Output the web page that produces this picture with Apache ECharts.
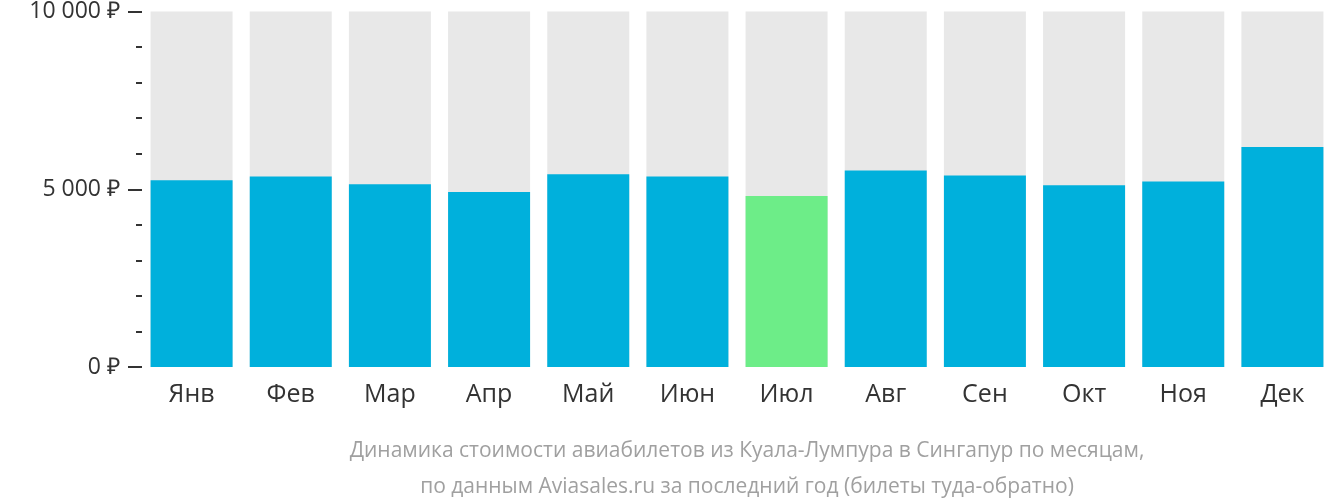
<!DOCTYPE html><html><head><meta charset="utf-8"><script src="https://cdn.jsdelivr.net/npm/echarts@6/dist/echarts.min.js"></script></head><body style="margin:0"><div id="c" style="width:1332px;height:502px"></div><script>
const categories=['Янв','Фев','Мар','Апр','Май','Июн','Июл','Авг','Сен','Окт','Ноя','Дек'];
const prices=[5250,5360,5140,4920,5420,5360,4810,5530,5390,5110,5220,6190];
const highlight=6;
const bgValue=10200;
const c=echarts.init(document.getElementById('c'));
c.setOption({animation:false,
grid:{left:142,right:-10,top:7,bottom:135},
title:{text:'Динамика стоимости авиабилетов из Куала-Лумпура в Сингапур по месяцам,\nпо данным Aviasales.ru за последний год (билеты туда-обратно)',left:742,textAlign:'center',top:428,textStyle:{fontFamily:'Open Sans',fontSize:21,fontWeight:'normal',color:'#a0a0a0',lineHeight:36}},
xAxis:{type:'category',data:categories,axisLine:{show:false},axisTick:{show:false},axisLabel:{fontFamily:'Open Sans',fontSize:25,color:'#333',margin:15}},
yAxis:{type:'value',min:0,max:10000,interval:5000,splitLine:{show:false},axisLine:{show:false},
axisTick:{show:true,length:14,lineStyle:{color:'#333',width:2}},minorTick:{show:true,splitNumber:5,length:6,lineStyle:{color:'#333',width:2}},
axisLabel:{fontFamily:'Open Sans',fontSize:23,color:'#333',margin:22,formatter:v=>v.toLocaleString('ru-RU').replace(/\s/g,' ')+' ₽'}},
series:[{type:'bar',data:categories.map(()=>bgValue),barWidth:82,itemStyle:{color:'#e8e8e8'},silent:true},
{type:'bar',data:prices.map((v,i)=>({value:v,itemStyle:{color:i===highlight?'#6ded88':'#00b0dc'}})),barWidth:82,barGap:'-100%'}]});
</script></body></html>
